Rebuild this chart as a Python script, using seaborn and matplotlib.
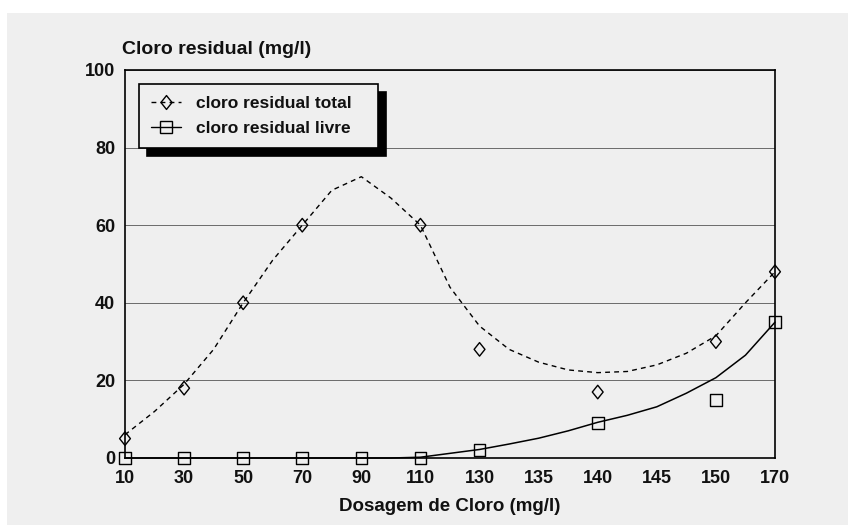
import matplotlib
matplotlib.use('Agg')
import matplotlib.pyplot as plt
import seaborn as sns
import numpy as np
import pandas as pd
from matplotlib.lines import Line2D
from matplotlib.patches import Rectangle
from matplotlib.path import Path

# ---------------- data ----------------
dose_labels = ['10', '30', '50', '70', '90', '110', '130', '135', '140', '145', '150', '170']

total_dose = ['10', '30', '50', '70', '110', '130', '140', '150', '170']
total_vals = [5, 18, 40, 60, 60, 28, 17, 30, 48]

free_dose = ['10', '30', '50', '70', '90', '110', '130', '140', '150', '170']
free_vals = [0, 0, 0, 0, 0, 0, 2, 9, 15, 35]

# fitted curves read at every half step of the dosage axis
fit_steps = np.arange(0, 11.01, 0.5)
total_fit = [6, 12, 19, 28, 40, 51, 60, 69, 72.5, 67, 60, 44, 34, 28, 24.7, 22.7,
             22, 22.3, 24, 27, 31.5, 40, 48]
free_fit = [0, 0, 0, 0, 0, 0, 0, 0, 0, 0, 0.2, 1.2, 2.2, 3.6, 5.1, 7, 9.2, 11,
            13.2, 16.7, 20.7, 26.5, 35]

legend_labels = ['cloro residual total', 'cloro residual livre']
y_ticks = [0, 20, 40, 60, 80, 100]

# ---------------- style ----------------
BG = '#efefef'
sns.set_theme(style='white')
plt.rcParams['font.family'] = ['Liberation Sans', 'DejaVu Sans']
plt.rcParams['font.weight'] = 'bold'

fig = plt.figure(figsize=(8.48, 5.25), dpi=100, facecolor='white')
fig.patches.append(Rectangle((7 / 848, 0), 1, (525 - 13) / 525, transform=fig.transFigure,
                             facecolor=BG, edgecolor='none', zorder=-10))
ax = fig.add_axes([125 / 848, 1 - 458 / 525, 650 / 848, 388 / 525])
ax.set_facecolor(BG)

pos = {d: i for i, d in enumerate(dose_labels)}
df_total = pd.DataFrame({'x': [pos[d] for d in total_dose], 'y': total_vals})
df_free = pd.DataFrame({'x': [pos[d] for d in free_dose], 'y': free_vals})
df_tfit = pd.DataFrame({'x': fit_steps, 'y': total_fit})
df_ffit = pd.DataFrame({'x': fit_steps, 'y': free_fit})

dash = (0, (3.5, 3))
sns.lineplot(data=df_tfit, x='x', y='y', ax=ax, color='black', linewidth=1.0,
             linestyle=dash, sort=False, estimator=None, zorder=3)
sns.lineplot(data=df_ffit, x='x', y='y', ax=ax, color='black', linewidth=1.1,
             sort=False, estimator=None, zorder=3, clip_on=False)

diamond = Path([(-0.4, 0), (0, 0.5), (0.4, 0), (0, -0.5), (-0.4, 0)],
               [Path.MOVETO, Path.LINETO, Path.LINETO, Path.LINETO, Path.CLOSEPOLY])

sns.scatterplot(data=df_total, x='x', y='y', ax=ax, marker=diamond, s=95,
                facecolor='none', edgecolor='black', linewidth=1.0, zorder=4, clip_on=False)
sns.scatterplot(data=df_free, x='x', y='y', ax=ax, marker='s', s=70,
                facecolor='none', edgecolor='black', linewidth=1.0, zorder=4, clip_on=False)

# ---------------- axes ----------------
ax.set_xlim(0, len(dose_labels) - 1)
ax.set_ylim(0, 100)
ax.set_xticks(range(len(dose_labels)))
ax.set_xticklabels(dose_labels)
ax.set_yticks(y_ticks)
ax.set_yticklabels([str(v) for v in y_ticks])
ax.yaxis.grid(True, color='#6a6a6a', linewidth=0.7)
ax.xaxis.grid(False)
ax.set_axisbelow(True)
for s in ax.spines.values():
    s.set_visible(True)
    s.set_color('black')
    s.set_linewidth(1.2)
ax.tick_params(axis='x', direction='in', length=7, width=1, color='black',
               pad=8.5, labelsize=13, labelcolor='#111111')
ax.tick_params(axis='y', length=0, pad=7, labelsize=13, labelcolor='#111111')
for lab in ax.get_xticklabels() + ax.get_yticklabels():
    lab.set_fontweight('bold')

ax.set_ylabel('')
ax.set_xlabel('Dosagem de Cloro (mg/l)', fontsize=13.5, fontweight='bold', color='#111111')
ax.xaxis.set_label_coords(0.5, -0.102)

fig.text(122 / 848, 1 - 50 / 525, 'Cloro residual (mg/l)', ha='left', va='center',
         fontsize=14, fontweight='bold', color='#111111')

# ---------------- legend ----------------
handles = [
    Line2D([], [], color='black', linestyle=dash, linewidth=1.0, marker=diamond,
           markersize=10, markerfacecolor='none', markeredgecolor='black'),
    Line2D([], [], color='black', linestyle='-', linewidth=1.0, marker='s',
           markersize=8.5, markerfacecolor='none', markeredgecolor='black'),
]
leg = ax.legend(handles, legend_labels, loc='upper left',
                bbox_to_anchor=(0.0215, 0.773, 0.3677, 0.191), mode='expand',
                frameon=True, fancybox=False,
                shadow={'color': 'black', 'alpha': 1, 'ox': 5.5, 'oy': -5.5},
                edgecolor='black', facecolor=BG, framealpha=1,
                prop={'size': 12.5, 'weight': 'bold'}, handlelength=1.7,
                handletextpad=0.9, borderpad=0.7, labelspacing=0.55, borderaxespad=0)
leg.get_frame().set_linewidth(1.2)
for t in leg.get_texts():
    t.set_color('#111111')

fig.savefig('out.png', dpi=100, facecolor=fig.get_facecolor())
